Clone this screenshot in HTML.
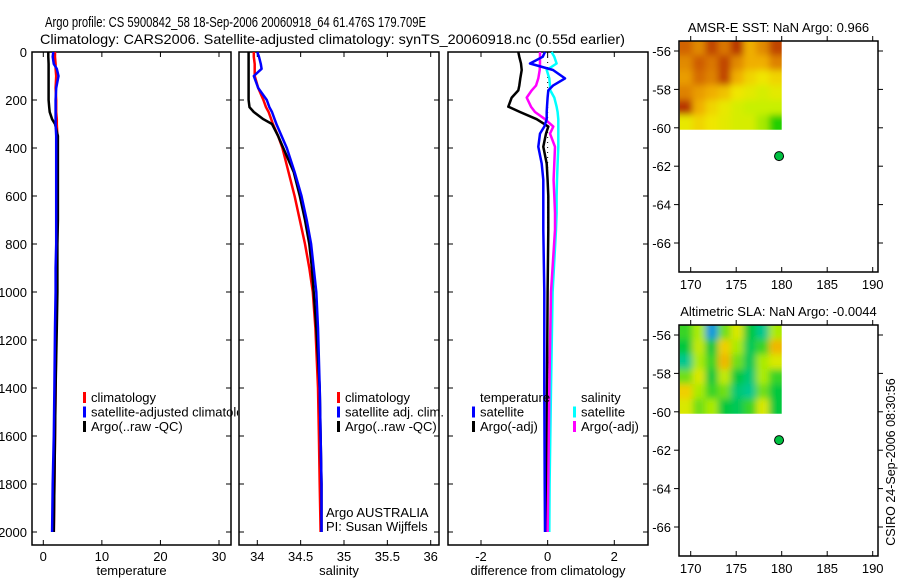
<!DOCTYPE html>
<html><head><meta charset="utf-8"><style>
html,body{margin:0;padding:0;background:#fff;}
svg{display:block;font-family:"Liberation Sans",sans-serif;}
text{fill:#000;}
</style></head><body>
<svg id="fig" width="900" height="580" viewBox="0 0 900 580">
<defs>
<filter id="blur" x="-5%" y="-5%" width="110%" height="110%"><feGaussianBlur stdDeviation="3.5"/></filter>
<clipPath id="clipT"><rect x="32" y="40" width="206" height="520"/></clipPath>
</defs>
<text x="45" y="27" font-size="15" textLength="381" lengthAdjust="spacingAndGlyphs">Argo profile: CS 5900842_58 18-Sep-2006 20060918_64 61.476S 179.709E</text>
<text x="40" y="44" font-size="14" textLength="585" lengthAdjust="spacingAndGlyphs">Climatology: CARS2006. Satellite-adjusted climatology: synTS_20060918.nc (0.55d earlier)</text>
<text transform="translate(895,462) rotate(-90)" font-size="12.5" text-anchor="middle">CSIRO 24-Sep-2006 08:30:56</text>
<g id="layer"></g>
</svg>
<script>
// ---------- data ----------
const depths = [0,20,50,70,100,150,200,230,250,280,300,350,400,500,600,700,800,900,1000,1150,1400,1600,1800,2000];
const tempClim = [2.0,2.0,2.1,2.1,2.2,2.1,2.2,2.2,2.2,2.3,2.3,2.4,2.4,2.4,2.4,2.3,2.3,2.3,2.3,2.2,2.1,2.0,1.9,1.8];
const tempSat  = [1.7,1.6,1.8,2.3,2.6,2.2,2.1,2.1,2.1,2.1,2.1,2.2,2.2,2.2,2.2,2.2,2.2,2.1,2.1,2.0,1.9,1.8,1.6,1.5];
const tempArgo = [0.85,0.85,0.9,0.9,0.9,0.9,0.9,1.0,1.1,1.5,2.0,2.5,2.5,2.5,2.5,2.5,2.4,2.4,2.4,2.3,2.1,2.0,1.9,1.8];
const salClim  = [33.96,33.96,33.97,33.97,33.97,34.01,34.07,34.10,34.13,34.16,34.18,34.24,34.29,34.36,34.43,34.49,34.55,34.60,34.64,34.67,34.70,34.71,34.72,34.73];
const salSat   = [34.00,34.02,34.04,34.05,33.96,34.01,34.11,34.14,34.17,34.20,34.22,34.28,34.34,34.43,34.51,34.57,34.62,34.65,34.68,34.70,34.72,34.73,34.74,34.74];
const salArgo  = [33.90,33.90,33.90,33.90,33.90,33.90,33.90,33.91,33.96,34.07,34.17,34.24,34.30,34.42,34.49,34.55,34.60,34.63,34.65,34.68,34.72,34.73,34.74,34.74];
const diffDepths = [0,20,48,75,110,140,160,190,228,250,280,311,340,395,465,533,600,671,740,1000,1400,1800,2000];
const dTempArgo = [-0.88,-0.85,-0.80,-0.78,-0.82,-0.85,-0.88,-1.08,-1.18,-0.83,-0.33,0.02,-0.05,-0.13,-0.03,0.0,0.02,0.02,0.02,0.0,-0.02,-0.03,-0.05];
const dTempSat  = [-0.08,-0.15,-0.53,0.16,0.52,0.16,0.02,0.0,-0.02,-0.03,-0.03,-0.10,-0.23,-0.28,-0.18,-0.13,-0.13,-0.13,-0.13,-0.10,-0.10,-0.09,-0.08];
const dSalArgo  = [-0.23,-0.23,-0.23,-0.24,-0.28,-0.35,-0.48,-0.63,-0.50,-0.38,-0.08,0.17,0.07,0.22,0.20,0.18,0.20,0.22,0.22,0.10,0.05,0.02,0.0];
const dSalSat   = [0.12,0.20,0.27,-0.03,0.05,0.07,0.08,0.20,0.27,0.30,0.32,0.32,0.32,0.32,0.30,0.28,0.27,0.27,0.25,0.15,0.10,0.06,0.05];
const depthTicks = [0,200,400,600,800,1000,1200,1400,1600,1800,2000];
const tempTicks = [0,10,20,30];
const salTicks = [34,34.5,35,35.5,36];
const salTickLabels = ["34","34.5","35","35.5","36"];
const diffTicks = [-2,0,2];
const lonTicks = [170,175,180,185,190];
const latTicks = [-56,-58,-60,-62,-64,-66];
const argoLon = 179.709, argoLat = -61.476;
const sstGrid = [
 [0.80,0.70,0.88,0.75,0.92,0.60,0.70,0.88],
 [0.70,0.82,0.75,0.88,0.70,0.60,0.60,0.72],
 [0.65,0.78,0.72,0.88,0.60,0.50,0.45,0.50],
 [0.72,0.65,0.60,0.55,0.45,0.40,0.35,0.40],
 [0.92,0.60,0.50,0.42,0.35,0.30,0.30,0.30],
 [0.42,0.50,0.45,0.40,0.35,0.35,0.25,0.05]];
const slaGrid = [
 [0.50,0.60,0.10,0.55,0.70,0.45,0.30,0.60],
 [0.45,0.65,0.45,0.80,0.60,0.40,0.50,0.85],
 [0.30,0.60,0.50,0.85,0.55,0.40,0.60,0.70],
 [0.55,0.70,0.45,0.65,0.45,0.35,0.60,0.50],
 [0.80,0.60,0.50,0.55,0.35,0.30,0.55,0.45],
 [0.70,0.55,0.60,0.45,0.40,0.50,0.70,0.45]];
// ---------- helpers ----------
const NS="http://www.w3.org/2000/svg";
const L=document.getElementById('layer');
function mk(tag,at,parent){const e=document.createElementNS(NS,tag);for(const k in at)e.setAttribute(k,at[k]);(parent||L).appendChild(e);return e;}
function lin(d0,d1,r0,r1){return v=>r0+(v-d0)*(r1-r0)/(d1-d0);}
const Y0=52, Y1=545;
const yD=lin(0,2000,52,532);
function panel(name,x0,x1,xs,ticks,labels,xlabel,showY){
  const r=mk('rect',{x:x0,y:Y0,width:x1-x0,height:Y1-Y0,fill:'none',stroke:'#000','stroke-width':1.5});
  
  
  ticks.forEach((t,i)=>{const x=xs(t);
    mk('line',{x1:x,x2:x,y1:Y1,y2:Y1-5,stroke:'#000'});
    mk('line',{x1:x,x2:x,y1:Y0,y2:Y0+5,stroke:'#000'});
    const tx=mk('text',{x:x,y:Y1+16,'font-size':13,'text-anchor':'middle'});tx.textContent=labels[i];
    
    
  });
  depthTicks.forEach(d=>{const y=yD(d);
    mk('line',{x1:x0,x2:x0+5,y1:y,y2:y,stroke:'#000'});
    mk('line',{x1:x1,x2:x1-5,y1:y,y2:y,stroke:'#000'});
    if(showY){const t=mk('text',{x:x0-5,y:y+5,'font-size':13,'text-anchor':'end'});t.textContent=d;
      
      }
  });
  const xl=mk('text',{x:(x0+x1)/2,y:575,'font-size':13,'text-anchor':'middle'});xl.textContent=xlabel;
  
  
}
function series(name,xs,vals,ds,color){
  let d='';vals.forEach((v,i)=>{d+=(i?'L':'M')+xs(v).toFixed(1)+','+yD(ds[i]).toFixed(1);});
  const p=mk('path',{d:d,fill:'none',stroke:color,'stroke-width':2.5,'stroke-linejoin':'round'});
  
  
}
function legend(name,x,y,items,parent){
  items.forEach((it,i)=>{
    if(it[1]) mk('rect',{x:x,y:y+i*14.5-10,width:3,height:11,fill:it[1]},parent);
    const t=mk('text',{x:x+8,y:y+i*14.5,'font-size':13},parent);t.textContent=it[0];
    
    
  });
}
// panel 1 temperature
const xT=lin(0,30,43.3,219);
panel('temperature-panel',32,231,xT,tempTicks,tempTicks.map(String),'temperature',true);
series('temp-climatology-line',xT,tempClim,depths,'#f00');
series('temp-argo-line',xT,tempArgo,depths,'#000');
series('temp-satellite-line',xT,tempSat,depths,'#00f');
const tg=mk('g',{'clip-path':'url(#clipT)'});
legend('temp-legend',83,402,[['climatology','#f00'],['satellite-adjusted climatology','#00f'],['Argo(..raw -QC)','#000']],tg);
// panel 2 salinity
const xS=lin(34,36,257.3,430.7);
panel('salinity-panel',239,439,xS,salTicks,salTickLabels,'salinity',false);
series('sal-climatology-line',xS,salClim,depths,'#f00');
series('sal-argo-line',xS,salArgo,depths,'#000');
series('sal-satellite-line',xS,salSat,depths,'#00f');
legend('sal-legend',337,402,[['climatology','#f00'],['satellite adj. clim.','#00f'],['Argo(..raw -QC)','#000']]);
const a1=mk('text',{x:326,y:517,'font-size':13});a1.textContent='Argo AUSTRALIA';

const a2=mk('text',{x:326,y:531,'font-size':13});a2.textContent='PI: Susan Wijffels';

// panel 3 difference
const xD=lin(-2,2,481,614.3);
panel('difference-panel',448,648,xD,diffTicks,diffTicks.map(String),'difference from climatology',false);
mk('line',{x1:xD(0),x2:xD(0),y1:Y0,y2:yD(2000),stroke:'#000','stroke-dasharray':'1,4'});
series('diff-temp-argo-line',xD,dTempArgo,diffDepths,'#000');
series('diff-sal-sat-line',xD,dSalSat,diffDepths,'#0ff');
series('diff-sal-argo-line',xD,dSalArgo,diffDepths,'#f0f');
series('diff-temp-sat-line',xD,dTempSat,diffDepths,'#00f');
legend('diff-temp-legend',472,402,[['temperature',null],['satellite','#00f'],['Argo(-adj)','#000']]);
legend('diff-sal-legend',573,402,[['salinity',null],['satellite','#0ff'],['Argo(-adj)','#f0f']]);
// maps
function cmapSST(v){const s=[[0,[0,200,0]],[0.3,[200,240,0]],[0.45,[240,230,0]],[0.6,[240,175,0]],[0.8,[210,100,0]],[1,[165,20,0]]];return interp(s,v);}
function cmapSLA(v){const s=[[0,[0,120,255]],[0.25,[0,200,170]],[0.45,[0,200,60]],[0.6,[170,235,0]],[0.75,[240,230,0]],[0.9,[240,160,0]],[1,[230,120,0]]];return interp(s,v);}
function interp(s,v){for(let i=1;i<s.length;i++){if(v<=s[i][0]){const f=(v-s[i-1][0])/(s[i][0]-s[i-1][0]);const c=s[i-1][1].map((a,k)=>Math.round(a+(s[i][1][k]-a)*f));return 'rgb('+c+')';}}return 'rgb('+s[s.length-1][1]+')';}
function map(name,top,title,grid,cmap){
  const x0=679,x1=878,bot=top+231;
  const xl=lin(170,190,690.7,872.7);
  const yl=lin(-56,-66,top+10,top+202);
  const t=mk('text',{x:(x0+x1)/2,y:top-9,'font-size':13,'text-anchor':'middle'});t.textContent=title;
  
  const rows=grid.length,cols=grid[0].length;
  const gx0=xl(168.8),gx1=xl(180),gy0=yl(-55.45),gy1=yl(-60.1);
  const cw=(gx1-gx0)/cols,ch=(gy1-gy0)/rows;
  const cid='clip-'+name;
  const cp=mk('clipPath',{id:cid});
  mk('rect',{x:gx0,y:gy0,width:gx1-gx0,height:gy1-gy0},cp);
  const outer=mk('g',{'clip-path':'url(#'+cid+')'});
  const g=mk('g',{filter:'url(#blur)'},outer);
  grid.forEach((row,r)=>row.forEach((v,c)=>{
    // extend edge cells outward so blur doesn't fade to white at the clip edges
    const ex0=c===0?-8:0, ex1=c===cols-1?8:0, ey0=r===0?-8:0, ey1=r===rows-1?8:0;
    const cell=mk('rect',{x:(gx0+c*cw+ex0).toFixed(1),y:(gy0+r*ch+ey0).toFixed(1),width:(cw+0.6-ex0+ex1).toFixed(1),height:(ch+0.6-ey0+ey1).toFixed(1),fill:cmap(v)},g);
    
    
  }));
  const f=mk('rect',{x:x0,y:top,width:x1-x0,height:bot-top,fill:'none',stroke:'#000','stroke-width':1.5});
  
  lonTicks.forEach(v=>{const x=xl(v);
    mk('line',{x1:x,x2:x,y1:bot,y2:bot-5,stroke:'#000'});mk('line',{x1:x,x2:x,y1:top,y2:top-5,stroke:'#000'});
    const tx=mk('text',{x:x,y:bot+17,'font-size':13,'text-anchor':'middle'});tx.textContent=v;
    });
  latTicks.forEach(v=>{const y=yl(v);
    mk('line',{x1:x0,x2:x0-5,y1:y,y2:y,stroke:'#000'});mk('line',{x1:x1,x2:x1+5,y1:y,y2:y,stroke:'#000'});
    const tx=mk('text',{x:x0-8,y:y+5,'font-size':13,'text-anchor':'end'});tx.textContent=v;
    });
  const dot=mk('circle',{cx:xl(argoLon),cy:yl(argoLat),r:4.5,fill:'#00c040',stroke:'#000','stroke-width':1});
  
}
map('sst-map',41,'AMSR-E SST: NaN Argo: 0.966',sstGrid,cmapSST);
map('sla-map',325,'Altimetric SLA: NaN Argo: -0.0044',slaGrid,cmapSLA);
</script>
</body></html>
